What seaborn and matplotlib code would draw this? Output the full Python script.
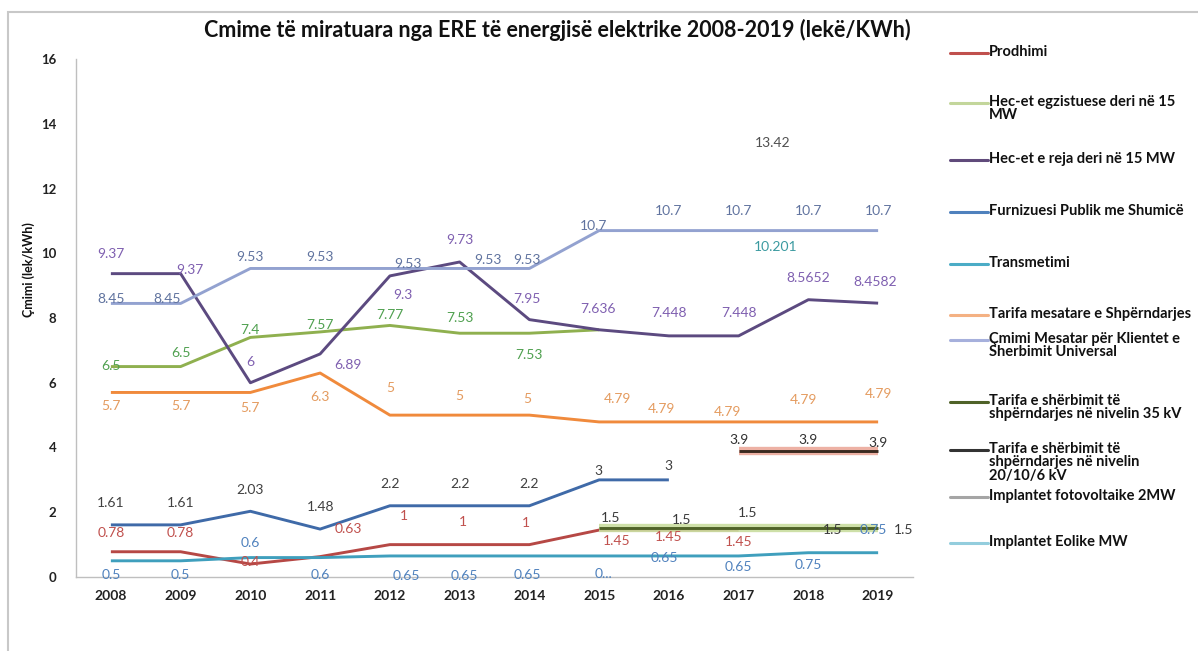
import numpy as np
import pandas as pd
import seaborn as sns
import matplotlib
matplotlib.use("Agg")
import matplotlib.pyplot as plt
from matplotlib.lines import Line2D
from matplotlib.patches import Rectangle

# ---------------- data ----------------
years = ["2008", "2009", "2010", "2011", "2012", "2013", "2014",
         "2015", "2016", "2017", "2018", "2019"]
N = None

prodhimi = [0.78, 0.78, 0.4, 0.63, 1, 1, 1, 1.45, 1.45, 1.45, N, N]
hec_egz = [6.5, 6.5, 7.4, 7.57, 7.77, 7.53, 7.53, 7.636, N, N, N, N]
hec_reja = [9.37, 9.37, 6, 6.89, 9.3, 9.73, 7.95, 7.636, 7.448, 7.448, 8.5652, 8.4582]
furnizuesi = [1.61, 1.61, 2.03, 1.48, 2.2, 2.2, 2.2, 3, 3, N, N, N]
transmetimi = [0.5, 0.5, 0.6, 0.6, 0.65, 0.65, 0.65, 0.65, 0.65, 0.65, 0.75, 0.75]
tarifa_mes = [5.7, 5.7, 5.7, 6.3, 5, 5, 5, 4.79, 4.79, 4.79, 4.79, 4.79]
cmimi_mes = [8.45, 8.45, 9.53, 9.53, 9.53, 9.53, 9.53, 10.7, 10.7, 10.7, 10.7, 10.7]
tarifa_35 = [N, N, N, N, N, N, N, 1.5, 1.5, 1.5, 1.5, 1.5]
tarifa_20 = [N, N, N, N, N, N, N, N, N, 3.9, 3.9, 3.9]
fotovolt = [N, N, N, N, N, N, N, N, N, 13.42, N, N]
eolike = [N, N, N, N, N, N, N, N, N, 10.201, N, N]

# text of a truncated data label in the source
transm_label_text = ["0.5", "0.5", "0.6", "0.6", "0.65", "0.65", "0.65", "0...",
                     "0.65", "0.65", "0.75", "0.75"]

series_names = [
    "Prodhimi",
    "Hec-et egzistuese deri në 15\nMW",
    "Hec-et e reja deri në 15 MW",
    "Furnizuesi Publik me Shumicë",
    "Transmetimi",
    "Tarifa mesatare e Shpërndarjes",
    "Çmimi Mesatar për Klientet e\nSherbimit Universal",
    "Tarifa e shërbimit të\nshpërndarjes në nivelin 35 kV",
    "Tarifa e shërbimit të\nshpërndarjes në nivelin\n20/10/6 kV",
    "Implantet fotovoltaike 2MW",
    "Implantet Eolike MW",
]
series_values = [prodhimi, hec_egz, hec_reja, furnizuesi, transmetimi, tarifa_mes,
                 cmimi_mes, tarifa_35, tarifa_20, fotovolt, eolike]

# ---------------- styles ----------------
line_colors = ["#b64845", "#8fb04f", "#5c4a80", "#3f6aa8", "#3f9fbd", "#f08a3c",
               "#93a2d0", "#4f6228", "#3a2a20", "#a5a5a5", "#93cddd"]
glow_colors = [None, None, None, None, None, None, None, "#c9dd9f", "#eba99a", None, None]
label_colors = ["#c0504d", "#4fa04f", "#7f5fb0", "#404040", "#4f81bd", "#e49b5f",
                "#60739f", "#3a3a3a", "#303030", "#505050", "#3b9aa0"]
legend_colors = ["#c0504d", "#c3d69b", "#604a7b", "#4f81bd", "#4bacc6", "#f4b183",
                 "#a6b0dc", "#4f6228", "#333333", "#a5a5a5", "#93cddd"]

# label offsets in pixels (dx, dy), one per year
offs = {
    0: [(0, 19), (0, 19), (0, 2), (28, 28), (14, 29), (3, 23), (-3, 22), (18, -11), (0, -7), (0, -12), None, None],
    1: [(0, 1), (0, 14), (0, 7), (0, 7), (0, 10), (0, 15), (0, -22), None, None, None, None, None],
    2: [(0, 20), (9, 4), (0, 21), (28, -11), (13, -19), (0, 22), (-2, 21), (-1, 21), (0, 23), (0, 23), (0, 22), (-3, 21)],
    3: [(0, 22), (0, 22), (0, 21), (0, 22), (0, 22), (0, 22), (0, 22), (-1, 9), (0, 14), None, None, None],
    4: [(0, -14), (0, -14), (0, 15), (0, -17), (17, -20), (5, -20), (-2, -19), (4, -18), (-4, -2), (0, -11), (0, -12), (-5, 23)],
    5: [(0, -14), (0, -14), (0, -16), (0, -24), (0, 27), (0, 19), (-2, 16), (18, 23), (-7, 13), (-11, 10), (-5, 22), (0, 28)],
    6: [(0, 4), (-13, 4), (0, 11), (0, 11), (18, 4), (28, 8), (-2, 8), (-6, 5), (0, 20), (0, 20), (0, 20), (0, 20)],
    7: [None] * 7 + [(11, 10), (13, 8), (9, 15), (24, -2), (25, -2)],
    8: [None] * 9 + [(0, 11), (0, 11), (0, 8)],
    9: [None] * 9 + [(34, 0), None, None],
    10: [None] * 9 + [(37, 0), None, None],
}

# ---------------- figure ----------------
sns.set_theme(style="white")
plt.rcParams["font.family"] = ["Lato", "DejaVu Sans"]

W, H = 1198, 651
fig = plt.figure(figsize=(W / 100, H / 100), dpi=100)
ax_l, ax_r, ax_b, ax_t = 76, 913, 577, 59
ax = fig.add_axes([ax_l / W, (H - ax_b) / H, (ax_r - ax_l) / W, (ax_b - ax_t) / H])
fig.patch.set_facecolor("white")

x_idx = np.arange(len(years))
for i, vals in enumerate(series_values):
    df = pd.DataFrame({"x": x_idx, "y": pd.array(vals, dtype="Float64").astype(float)})
    df = df.dropna()
    if glow_colors[i] is not None:
        sns.lineplot(data=df, x="x", y="y", ax=ax, color=glow_colors[i], lw=6,
                     alpha=0.9, legend=False, solid_capstyle="butt")
    sns.lineplot(data=df, x="x", y="y", ax=ax, color=line_colors[i], lw=2.1,
                 legend=False, solid_capstyle="butt")

# data labels
for i, vals in enumerate(series_values):
    for j, v in enumerate(vals):
        if v is None or offs[i][j] is None:
            continue
        dx, dy = offs[i][j]
        txt = transm_label_text[j] if i == 4 else f"{v:g}"
        ax.annotate(txt, (j, v), xytext=(dx * 0.72, dy * 0.72), textcoords="offset points",
                    ha="center", va="center", fontsize=10, color=label_colors[i])

ax.set_xlim(-0.5, 11.5)
ax.set_ylim(0, 16)
ax.set_yticks(np.arange(0, 17, 2))
ax.set_yticklabels([str(t) for t in range(0, 17, 2)], fontsize=9.5, fontweight="bold", color="#222222")
ax.set_xticks(x_idx)
ax.set_xticklabels(years, fontsize=10, fontweight="bold", color="#222222")
ax.set_xticks(np.arange(-0.5, 12, 1), minor=True)
ax.tick_params(axis="x", which="major", length=0, pad=9)
ax.tick_params(axis="x", which="minor", length=4, color="#bfbfbf", direction="out")
ax.tick_params(axis="y", which="major", length=4, color="#bfbfbf", direction="out", pad=10)
for s in ["top", "right"]:
    ax.spines[s].set_visible(False)
for s in ["left", "bottom"]:
    ax.spines[s].set_color("#bfbfbf")
    ax.spines[s].set_linewidth(1.0)
ax.set_xlabel("")
ax.set_ylabel("Çmimi (lek/kWh)", fontsize=9, fontweight="bold", color="#111111")
ax.yaxis.set_label_coords(-0.049, 0.593)

fig.text(557 / W, 1 - 30 / H,
         "Cmime të miratuara nga ERE të energjisë elektrike 2008-2019 (lekë/KWh)",
         ha="center", va="center", fontsize=15.5, fontweight="bold", color="#111111")

# legend
leg_y = [53, 103, 160, 212, 264, 315, 340, 402, 450, 497, 543]
for i, name in enumerate(series_names):
    yf = 1 - leg_y[i] / H
    fig.add_artist(Line2D([950 / W, 988 / W], [yf, yf], transform=fig.transFigure,
                          color=legend_colors[i], lw=2.2))
    fig.text(989 / W, 1 - (leg_y[i] - 8) / H, name, ha="left", va="top",
             fontsize=10.5, fontweight="bold", color="#111111", linespacing=0.95)

# chart border
fig.add_artist(Rectangle((8 / W, -0.1), 1.2, (H - 12) / H + 0.1, transform=fig.transFigure,
                         fill=False, edgecolor="#c8c8c8", lw=1.5))

fig.savefig("out.png", dpi=100, facecolor="white")
